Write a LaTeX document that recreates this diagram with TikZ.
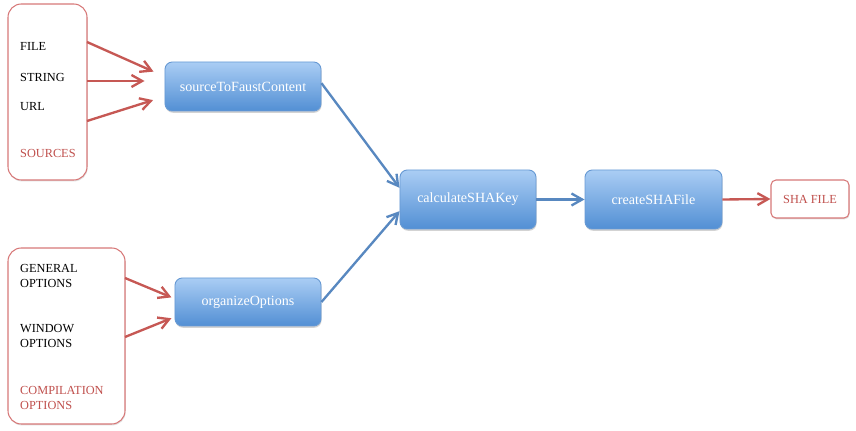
\documentclass[tikz,border=0pt]{standalone}
\usepackage{fontspec}
\setmainfont{Liberation Serif}
\usetikzlibrary{arrows.meta,positioning,shadows}

\definecolor{boxred}{RGB}{215,120,120}
\definecolor{textred}{RGB}{192,80,77}
\definecolor{linered}{RGB}{198,88,84}
\definecolor{lineblue}{RGB}{88,136,192}
\definecolor{topblue}{RGB}{170,205,244}
\definecolor{botblue}{RGB}{82,143,212}
\definecolor{edgeblue}{RGB}{104,154,212}

\begin{document}
\begin{tikzpicture}[x=0.03cm,y=-0.03cm,
    inbox/.style={draw=boxred,line width=0.9pt,fill=white,rounded corners=0.4cm,
      drop shadow={shadow xshift=0.5pt,shadow yshift=-1.2pt,opacity=0.25}},
    stepbox/.style={draw=edgeblue,line width=0.8pt,rounded corners=0.22cm,
      top color=topblue,bottom color=botblue,text=white,font=\fontsize{12}{13}\selectfont,
      drop shadow={shadow xshift=0.5pt,shadow yshift=-1.5pt,opacity=0.35}},
    item/.style={anchor=west,font=\fontsize{10.5}{12}\selectfont,align=left,inner sep=0pt},
    reditem/.style={item,text=textred},
    redline/.style={draw=linered,line width=2pt,-{Straight Barb[length=0.32cm,width=0.36cm]}},
    blueline/.style={draw=lineblue,line width=2pt,-{Straight Barb[length=0.32cm,width=0.36cm]}}]
    \useasboundingbox (0,0) rectangle (856,431);

    % input boxes
    \node[inbox,minimum width=2.37cm,minimum height=5.28cm] (sources) at (47.5,92) {};
    \node[inbox,minimum width=3.51cm,minimum height=5.28cm] (options) at (66.5,336) {};

    \node[item] (file) at (20,46) {FILE};
    \node[item] (string) at (20,77) {STRING};
    \node[item] (url) at (20,107) {URL};
    \node[reditem] (srclabel) at (20,153) {SOURCES};

    \node[item] (general) at (20,276) {GENERAL\\OPTIONS};
    \node[item] (window) at (20,336) {WINDOW\\OPTIONS};
    \node[reditem] (complabel) at (20,398) {COMPILATION\\OPTIONS};

    % process boxes
    \node[stepbox,minimum width=4.68cm,minimum height=1.47cm] (src) at (243,86.5) {sourceToFaustContent};
    \node[stepbox,minimum width=4.38cm,minimum height=1.44cm] (org) at (248,302) {organizeOptions};
    \node[stepbox,minimum width=4.08cm,minimum height=1.77cm] (calc) at (468,199.5) {calculateSHAKey};
    \node[stepbox,minimum width=4.11cm,minimum height=1.77cm] (create) at (653.5,199.5) {createSHAFile};

    \node[inbox,rounded corners=0.15cm,minimum width=2.34cm,minimum height=1.14cm,
      text=textred,font=\fontsize{10.5}{12}\selectfont] (shafile) at (810,199) {SHA FILE};

    % edge points of the input boxes
    \coordinate (fileout) at (87,42);
    \coordinate (stringout) at (87,81);
    \coordinate (urlout) at (87,121);
    \coordinate (generalout) at (125,278);
    \coordinate (windowout) at (125,337);

    \draw[redline,shorten >=0.36cm] (fileout) -- ([yshift=0.3cm]src.west);
    \draw[redline,shorten >=0.6cm] (stringout) -- ([yshift=0.165cm]src.west);
    \draw[redline,shorten >=0.36cm] (urlout) -- ([yshift=-0.3cm]src.west);
    \draw[redline,shorten >=0.1cm] (generalout) -- ([yshift=0.1cm]org.west);
    \draw[redline,shorten >=0.1cm] (windowout) -- ([yshift=-0.45cm]org.west);

    \draw[blueline] ([yshift=0.1cm]src.east) -- ([yshift=0.35cm]calc.west);
    \draw[blueline] (org.east) -- ([yshift=-0.35cm]calc.west);
    \draw[blueline] (calc.east) -- (create.west);
    \draw[redline] (create.east) -- (shafile.west);
\end{tikzpicture}
\end{document}
